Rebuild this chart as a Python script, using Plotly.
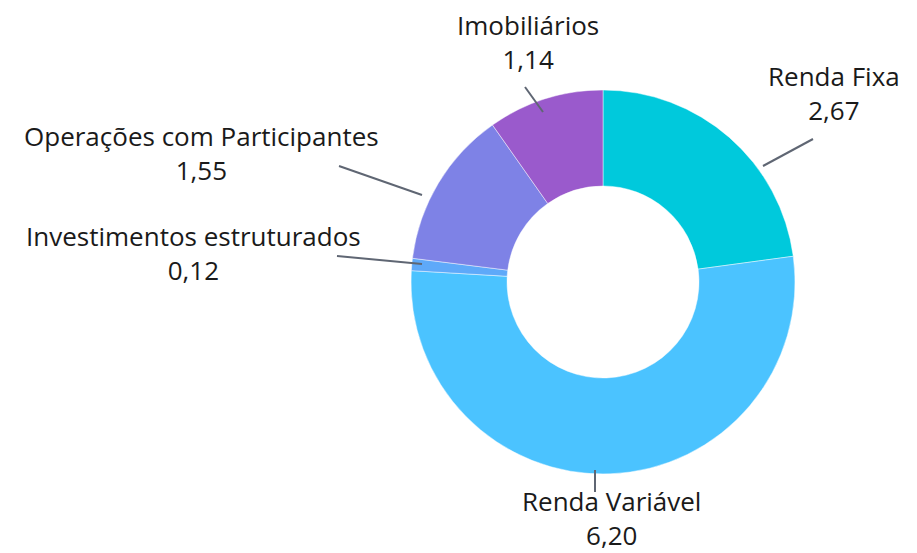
import plotly.graph_objects as go

W, H = 917, 553

categories = ["Renda Fixa", "Renda Variável", "Investimentos estruturados",
              "Operações com Participantes", "Imobiliários"]
values = [2.67, 6.20, 0.12, 1.55, 1.14]
value_labels = ["2,67", "6,20", "0,12", "1,55", "1,14"]
colors = ["#00C9DC", "#4BC3FF", "#5EA9F9", "#7E82E6", "#9A5ACC"]

# layout positions (pixels) for labels and leader lines
label_pos = [(834, 56), (611, 481), (193, 216), (201, 116), (528, 5)]
leader = [((813, 139), (763, 166)), ((595, 470), (595, 492)), ((337, 256), (422, 264)),
          ((339, 166), (422, 195)), ((525, 87), (543, 112))]

cx, cy, R = 603, 282, 192


def px(x):
    return x / W


def py(y):
    return 1 - y / H


fig = go.Figure(go.Pie(
    labels=categories, values=values, sort=False, direction="clockwise",
    rotation=0, hole=0.5, textinfo="none", hoverinfo="label+value",
    marker=dict(colors=colors, line=dict(color="rgba(255,255,255,0.45)", width=1)),
    domain=dict(x=[px(cx - R), px(cx + R)], y=[py(cy + R), py(cy - R)]),
    showlegend=False,
))

font = dict(family="'Open Sans', Lato, sans-serif", size=26, color="#1a1a1a")
annotations = []
for cat, vl, (lx, ly) in zip(categories, value_labels, label_pos):
    annotations.append(dict(
        x=px(lx), y=py(ly), xref="paper", yref="paper", xanchor="center", yanchor="top",
        text=f"{cat}<br>{vl}", showarrow=False, font=font, align="center",
    ))

shapes = []
for (x0, y0), (x1, y1) in leader:
    shapes.append(dict(type="line", xref="paper", yref="paper",
                       x0=px(x0), y0=py(y0), x1=px(x1), y1=py(y1),
                       line=dict(color="#5f6673", width=2)))

fig.update_layout(width=W, height=H, margin=dict(l=0, r=0, t=0, b=0),
                  paper_bgcolor="white", plot_bgcolor="white",
                  annotations=annotations, shapes=shapes)

fig.write_html("out.html", config={"displayModeBar": False},
               post_script="document.body.style.margin='0';")
